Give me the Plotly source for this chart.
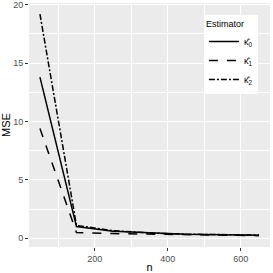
import plotly.graph_objects as go

n = [50, 150, 250, 350, 450, 550, 650]
k0 = [13.8, 1.0, 0.6, 0.45, 0.35, 0.3, 0.25]
k1 = [9.4, 0.5, 0.4, 0.35, 0.3, 0.25, 0.22]
k2 = [19.2, 1.1, 0.65, 0.45, 0.35, 0.3, 0.27]
names = ["κ̂<sub>0</sub>", "κ̂<sub>1</sub>", "κ̂<sub>2</sub>"]
dashes = ["solid", "dash", "6px,2px,2px,2px"]

fig = go.Figure()
for y, nm, d in zip([k0, k1, k2], names, dashes):
    fig.add_trace(go.Scatter(x=n, y=y, mode="lines", name=nm,
                             line=dict(color="black", width=1.5, dash=d)))

axis_common = dict(showgrid=True, gridcolor="white", gridwidth=1.1,
                   zeroline=False, ticks="outside", ticklen=3,
                   tickcolor="#333333", tickfont=dict(size=9, color="#4D4D4D"),
                   showline=False, automargin=False, ticklabeloverflow="allow")
fig.update_xaxes(range=[20, 680], tickvals=[200, 400, 600],
                 minor=dict(tickvals=[100, 300, 500], showgrid=True,
                            gridcolor="white", gridwidth=0.5, ticks=""),
                 title=dict(text="n", font=dict(size=11, color="black"), standoff=1),
                 **axis_common)
fig.update_yaxes(range=[-0.75, 20.15], tickvals=[0, 5, 10, 15, 20],
                 minor=dict(tickvals=[2.5, 7.5, 12.5, 17.5], showgrid=True,
                            gridcolor="white", gridwidth=0.5, ticks=""),
                 title=dict(text="MSE", font=dict(size=11, color="black"), standoff=3),
                 **axis_common)
fig.update_layout(
    width=273, height=273,
    margin=dict(l=29, r=3, t=3, b=26),
    plot_bgcolor="#EBEBEB", paper_bgcolor="white",
    font=dict(family="Liberation Sans, Arial, sans-serif", color="black"),
    legend=dict(x=0.95, y=0.95, xanchor="right", yanchor="top",
                bgcolor="white",
                title=dict(text="Estimator", font=dict(size=9, color="black")),
                font=dict(size=9, color="black"), itemwidth=30, tracegroupgap=0),
    showlegend=True,
)
fig.write_html("out.html", config={"displayModeBar": False},
               post_script="document.body.style.margin='0';document.body.style.padding='0';")
